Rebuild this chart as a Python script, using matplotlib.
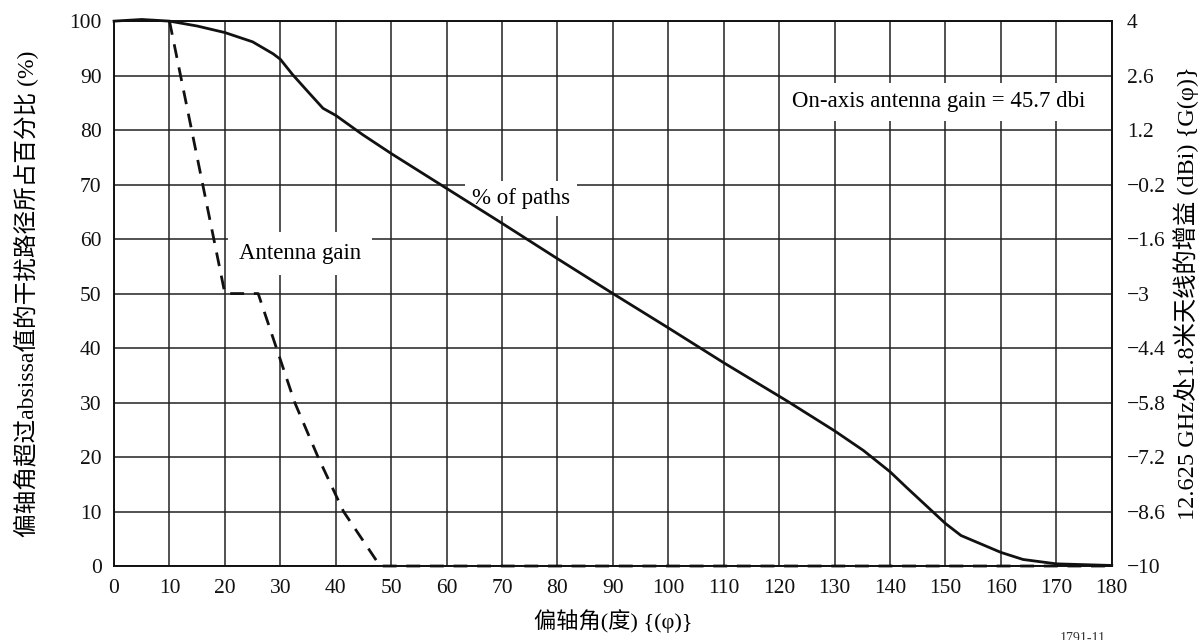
import numpy as np
import matplotlib.pyplot as plt

plt.rcParams['font.family'] = ['Liberation Serif', 'Noto Sans CJK SC']
plt.rcParams['axes.unicode_minus'] = True

# % of paths exceeding the off-axis angle (solid curve)
path_angle = [0, 5, 10, 15, 20, 25, 28.7, 30, 32.2, 35.2, 37.7, 40, 44.8, 50,
              60, 70, 80, 90, 100, 110, 121.4, 130, 135.2, 140, 143, 150,
              152.8, 160, 164, 170, 180]
path_pct = [100, 100.3, 100, 99.1, 97.9, 96.2, 94, 93, 90.2, 86.8, 84, 82.7, 79.2, 75.7,
            69.3, 62.9, 56.4, 50, 43.7, 37.3, 30.3, 24.8, 21.2, 17.3, 14.4, 7.8,
            5.6, 2.5, 1.2, 0.4, 0.1]

# antenna gain of the 1.8 m dish at 12.625 GHz (dashed curve)
gain_angle = [10, 20, 26, 29.3, 32.6, 36.8, 41.4, 48, 180]
gain_dbi = [4, -3, -3, -4.4, -5.8, -7.2, -8.6, -10, -10]

x_ticks = list(range(0, 181, 10))
left_ticks = list(range(0, 101, 10))
right_ticks = [-10, -8.6, -7.2, -5.8, -4.4, -3, -1.6, -0.2, 1.2, 2.6, 4]
right_labels = ['\u221210', '\u22128.6', '\u22127.2', '\u22125.8', '\u22124.4', '\u22123',
                '\u22121.6', '\u22120.2', '1.2', '2.6', '4']

fig = plt.figure(figsize=(11.98, 6.4), dpi=100)
ax = fig.add_axes([0.0952, 0.1156, 0.8328, 0.8514])

ax.set_xlim(0, 180)
ax.set_ylim(0, 100)
ax.set_xticks(x_ticks)
ax.set_yticks(left_ticks)
ax.grid(True, color='#222222', linewidth=1.1)
ax.set_axisbelow(True)
ax.tick_params(length=0, labelsize=15.5, colors='#111111')
ax.tick_params(axis='x', pad=9)
ax.tick_params(axis='y', pad=9)
for s in ax.spines.values():
    s.set_linewidth(1.4)
    s.set_color('#111111')

ax.plot(path_angle, path_pct, color='#111111', linewidth=2.0, clip_on=False, zorder=4)

ax2 = ax.twinx()
ax2.set_ylim(-10, 4)
ax2.set_yticks(right_ticks)
ax2.set_yticklabels(right_labels)
ax2.tick_params(length=0, labelsize=15.5, pad=11, colors='#111111')
for s in ax2.spines.values():
    s.set_visible(False)
ax2.plot(gain_angle, gain_dbi, color='#111111', linewidth=2.0, dashes=(5, 3.5),
         clip_on=False, zorder=4)

ax.set_xlabel('偏轴角(度) {(φ)}', fontsize=16, labelpad=8)
ax.set_ylabel('偏轴角超过absissa值的干扰路径所占百分比 (%)', fontsize=17, labelpad=22)
ax2.set_ylabel('12.625 GHz处1.8米天线的增益 (dBi) {G(φ)}', fontsize=17.5, labelpad=5)

ax.text(64.5, 67.5, '% of paths', fontsize=16.5, va='center',
        bbox=dict(facecolor='white', edgecolor='none', pad=5), zorder=3)
ax.text(22.5, 57.4, 'Antenna gain', fontsize=16.5, va='center',
        bbox=dict(facecolor='white', edgecolor='none', pad=8), zorder=3)
ax.text(122.3, 85.2, 'On-axis antenna gain = 45.7 dbi', fontsize=16.5, va='center',
        bbox=dict(facecolor='white', edgecolor='none', pad=6), zorder=3)

fig.text(0.885, 0.002, '1791-11', fontsize=10, va='center', color='#333333')

fig.savefig('out.png', dpi=100)
